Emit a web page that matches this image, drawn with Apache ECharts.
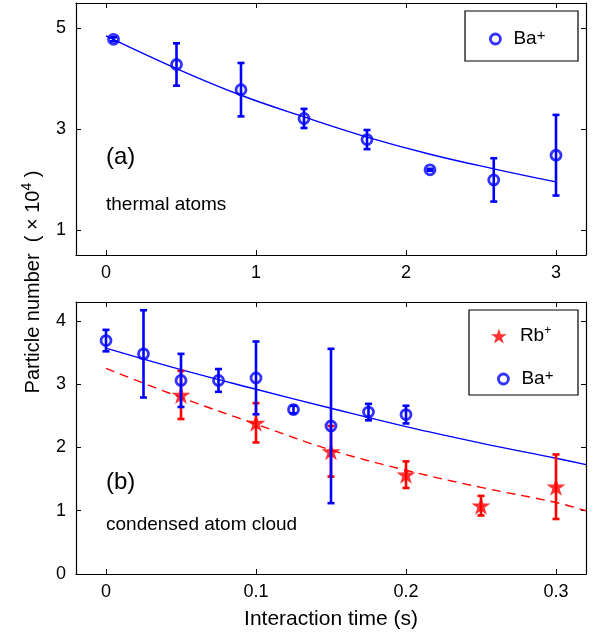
<!DOCTYPE html>
<html><head><meta charset="utf-8">
<script src="https://cdn.jsdelivr.net/npm/echarts@6/dist/echarts.min.js"></script>
<style>html,body{margin:0;padding:0;background:#fff}#c{width:595px;height:635px}</style>
</head><body><div id="c"></div>
<script>
const FONT = '"Liberation Sans", Arial, Helvetica, sans-serif';
const BLUE = '#0000ff', RED = '#ff0000';

// ---- Panel (a): thermal atoms, time in s ----
const aTime   = [0.05, 0.47, 0.90, 1.32, 1.74, 2.16, 2.585, 3.00];
const aBa     = [4.78, 4.28, 3.78, 3.21, 2.79, 2.19, 1.99, 2.48];
const aBaErr  = [0.04, 0.42, 0.53, 0.19, 0.19, 0.02, 0.43, 0.80];
const aFitT   = [0, 0.47, 0.90, 1.32, 1.74, 2.16, 2.585, 3.00];
const aFitBa  = [4.85, 4.20, 3.67, 3.24, 2.84, 2.50, 2.21, 1.95];
const aXTicks = [0, 1, 2, 3];
const aYTicks = [1, 3, 5];

// ---- Panel (b): condensed atom cloud ----
const bBaTime = [0, 0.025, 0.05, 0.075, 0.10, 0.125, 0.15, 0.175, 0.20];
const bBa     = [3.69, 3.48, 3.06, 3.06, 3.10, 2.60, 2.34, 2.56, 2.52];
const bBaErr  = [0.17, 0.69, 0.42, 0.18, 0.575, 0.06, 1.22, 0.13, 0.14];
const bRbTime = [0.05, 0.10, 0.15, 0.20, 0.25, 0.30];
const bRb     = [2.83, 2.39, 1.94, 1.57, 1.08, 1.38];
const bRbErr  = [0.38, 0.31, 0.40, 0.21, 0.155, 0.51];
const bFitT   = [0, 0.05, 0.10, 0.15, 0.20, 0.25, 0.30, 0.32];
const bFitBa  = [3.57, 3.23, 2.92, 2.62, 2.33, 2.07, 1.83, 1.73];
const bFitRb  = [3.25, 2.79, 2.37, 1.96, 1.64, 1.37, 1.13, 1.00];
const bXTicks = [0, 0.1, 0.2, 0.3];
const bYTicks = [0, 1, 2, 3, 4];

const pairs = (xs, ys) => xs.map((x, i) => [x, ys[i]]);
const triples = (xs, ys, es) => xs.map((x, i) => [x, ys[i], es[i]]);

const STAR = 'path://M0,-10 L2.25,-3.1 L9.51,-3.09 L3.65,1.19 L5.88,8.09 L0,3.84 L-5.88,8.09 L-3.65,1.19 L-9.51,-3.09 L-2.25,-3.1 Z';

function errRender(color) {
  return function (params, api) {
    const x = api.value(0), y = api.value(1), e = api.value(2);
    const t = api.coord([x, y + e]), b = api.coord([x, y - e]);
    const hw = 3.5;
    const st = { stroke: color, lineWidth: 2.6, lineCap: 'butt' };
    return {
      type: 'group', children: [
        { type: 'line', shape: { x1: t[0], y1: t[1], x2: b[0], y2: b[1] }, style: st },
        { type: 'line', shape: { x1: t[0] - hw, y1: t[1], x2: t[0] + hw, y2: t[1] }, style: st },
        { type: 'line', shape: { x1: b[0] - hw, y1: b[1], x2: b[0] + hw, y2: b[1] }, style: st }
      ]
    };
  };
}

const axisLine = { show: true, onZero: false, lineStyle: { color: '#000', width: 1.2 } };
function mkX(grid, min, max, ticks, pos, labels) {
  return {
    type: 'value', gridIndex: grid, min: min, max: max, position: pos,
    axisLine: axisLine, splitLine: { show: false },
    axisTick: { show: true, inside: true, length: 5, customValues: ticks, lineStyle: { color: '#000', width: 1 } },
    axisLabel: { show: labels, customValues: ticks, fontFamily: FONT, fontSize: 18, color: '#000', margin: 9 }
  };
}
function mkY(grid, min, max, ticks, pos, labels) {
  return {
    type: 'value', gridIndex: grid, min: min, max: max, position: pos,
    axisLine: axisLine, splitLine: { show: false },
    axisTick: { show: true, inside: true, length: 5, customValues: ticks, lineStyle: { color: '#000', width: 1 } },
    axisLabel: { show: labels, customValues: ticks, fontFamily: FONT, fontSize: 18, color: '#000', margin: 10 }
  };
}

const xAxes = [
  mkX(0, -0.2, 3.2, aXTicks, 'bottom', true),
  mkX(0, -0.2, 3.2, aXTicks, 'top', false),
  Object.assign(mkX(1, -0.02, 0.32, bXTicks, 'bottom', true), {
    name: 'Interaction time (s)', nameLocation: 'middle', nameGap: 35,
    nameTextStyle: { fontFamily: FONT, fontSize: 21, color: '#000' }
  }),
  mkX(1, -0.02, 0.32, bXTicks, 'top', false)
];
const yAxes = [
  mkY(0, 0.5, 5.5, aYTicks, 'left', true),
  mkY(0, 0.5, 5.5, aYTicks, 'right', false),
  mkY(1, 0, 4.3, bYTicks, 'left', true),
  mkY(1, 0, 4.3, bYTicks, 'right', false)
];

const circleStyle = { color: 'rgba(0,0,0,0)', borderColor: BLUE, borderWidth: 2.8 };

const series = [
  // panel (a)
  { name: 'Ba+ fit (a)', type: 'line', xAxisIndex: 0, yAxisIndex: 0, data: pairs(aFitT, aFitBa),
    showSymbol: false, smooth: 0.4, lineStyle: { color: BLUE, width: 1.4 }, z: 2 },
  { name: 'Ba+ err (a)', type: 'custom', xAxisIndex: 0, yAxisIndex: 0, data: triples(aTime, aBa, aBaErr),
    renderItem: errRender(BLUE), encode: { x: 0, y: 1 }, z: 3 },
  { name: 'Ba+', type: 'scatter', xAxisIndex: 0, yAxisIndex: 0, data: pairs(aTime, aBa),
    symbol: 'circle', symbolSize: 10, itemStyle: circleStyle, z: 4 },
  // panel (b)
  { name: 'Rb+ fit', type: 'line', xAxisIndex: 2, yAxisIndex: 2, data: pairs(bFitT, bFitRb),
    showSymbol: false, smooth: 0.4, lineStyle: { color: RED, width: 1.4, type: [9, 6] }, z: 2 },
  { name: 'Ba+ fit (b)', type: 'line', xAxisIndex: 2, yAxisIndex: 2, data: pairs(bFitT, bFitBa),
    showSymbol: false, smooth: 0.4, lineStyle: { color: BLUE, width: 1.4 }, z: 2 },
  { name: 'Rb+ err', type: 'custom', xAxisIndex: 2, yAxisIndex: 2, data: triples(bRbTime, bRb, bRbErr),
    renderItem: errRender(RED), encode: { x: 0, y: 1 }, z: 3 },
  { name: 'Rb+', type: 'scatter', xAxisIndex: 2, yAxisIndex: 2, data: pairs(bRbTime, bRb),
    symbol: STAR, symbolSize: [19, 18], itemStyle: { color: RED }, z: 3 },
  { name: 'Ba+ err (b)', type: 'custom', xAxisIndex: 2, yAxisIndex: 2, data: triples(bBaTime, bBa, bBaErr),
    renderItem: errRender(BLUE), encode: { x: 0, y: 1 }, z: 4 },
  { name: 'Ba+', type: 'scatter', xAxisIndex: 2, yAxisIndex: 2, data: pairs(bBaTime, bBa),
    symbol: 'circle', symbolSize: 10, itemStyle: circleStyle, z: 5 }
];

function legendFmt(name) {
  return name === 'Rb+' ? 'Rb{sr|+}' : 'Ba{sb|+}';
}
const legendText = {
  fontFamily: FONT, fontSize: 19, color: '#000', lineHeight: 22, padding: [0, 0, 0, 8],
  rich: {
    sr: { fontFamily: FONT, fontSize: 12, lineHeight: 12, verticalAlign: 'top' },
    sb: { fontFamily: FONT, fontSize: 15, lineHeight: 14, verticalAlign: 'top' }
  }
};
function mkLegend(name, left, top, w, h, extra) {
  return Object.assign({
    data: [name], left: left, top: top, orient: 'vertical', padding: 0,
    itemWidth: w, itemHeight: h, formatter: legendFmt, textStyle: legendText,
    selectedMode: false, z: 10
  }, extra || {});
}

const option = {
  animation: false,
  backgroundColor: '#fff',
  grid: [
    { left: 76, top: 3, width: 510, height: 252, show: false },
    { left: 76, top: 302, width: 510, height: 272, show: false }
  ],
  xAxis: xAxes,
  yAxis: yAxes,
  legend: [
    mkLegend('Ba+', 489, 28, 10, 10, { itemStyle: { borderWidth: 2.8, borderColor: BLUE, color: 'rgba(0,0,0,0)' } }),
    mkLegend('Rb+', 491, 325, 16, 15),
    mkLegend('Ba+', 497, 368, 10, 10, { itemStyle: { borderWidth: 2.8, borderColor: BLUE, color: 'rgba(0,0,0,0)' } })
  ],
  graphic: [
    { type: 'rect', z: 8, shape: { x: 465, y: 11, width: 113, height: 50 },
      style: { fill: '#fff', stroke: '#000', lineWidth: 1.2 } },
    { type: 'rect', z: 8, shape: { x: 469, y: 310, width: 109, height: 85 },
      style: { fill: '#fff', stroke: '#000', lineWidth: 1.2 } },
    { type: 'text', x: 106, y: 157, z: 9,
      style: { text: '(a)', fontFamily: FONT, fontSize: 24, fill: '#000', verticalAlign: 'middle' } },
    { type: 'text', x: 106, y: 205, z: 9,
      style: { text: 'thermal atoms', fontFamily: FONT, fontSize: 19, fill: '#000', verticalAlign: 'middle' } },
    { type: 'text', x: 106, y: 482, z: 9,
      style: { text: '(b)', fontFamily: FONT, fontSize: 24, fill: '#000', verticalAlign: 'middle' } },
    { type: 'text', x: 106, y: 525, z: 9,
      style: { text: 'condensed atom cloud', fontFamily: FONT, fontSize: 19, fill: '#000', verticalAlign: 'middle' } },
    { type: 'text', x: 33, y: 282, rotation: Math.PI / 2, z: 9,
      style: {
        text: 'Particle number  ( × 10{sup|4} )', fontFamily: FONT, fontSize: 20, fill: '#000',
        align: 'center', verticalAlign: 'middle', lineHeight: 26,
        rich: { sup: { fontFamily: FONT, fontSize: 14, lineHeight: 14, verticalAlign: 'top', fill: '#000' } }
      } }
  ],
  series: series
};

const chart = echarts.init(document.getElementById('c'), null, { renderer: 'canvas' });
chart.setOption(option);
</script>
</body></html>
